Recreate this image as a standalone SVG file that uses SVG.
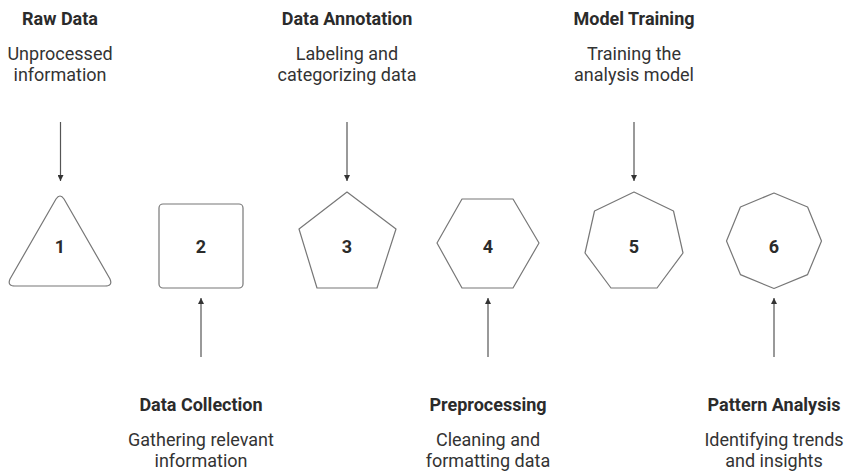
<svg xmlns="http://www.w3.org/2000/svg" width="846" height="473" viewBox="0 0 846 473">
<defs>
<style>
.t{font-family:Roboto,"Liberation Sans",sans-serif;font-weight:bold;font-size:18px;fill:#2b2b2b;text-anchor:middle}
.d{font-family:Roboto,"Liberation Sans",sans-serif;font-size:18px;fill:#333;text-anchor:middle}
.n{font-family:Roboto,"Liberation Sans",sans-serif;font-weight:bold;font-size:18px;fill:#2b2b2b;text-anchor:middle}
.s{fill:#fff;stroke:#777;stroke-width:1.2;stroke-linejoin:round}
.c{stroke:#555;stroke-width:1.2;fill:none}
</style>
<marker id="ah" viewBox="0 0 10 10" refX="10" refY="5" markerWidth="6" markerHeight="6" markerUnits="userSpaceOnUse" orient="auto">
<path d="M0,0 L10,5 L0,10 Z" fill="#333"/>
</marker>
</defs>
<rect width="846" height="473" fill="#fff"/>
<g id="connectors">
<line class="c" x1="60.5" y1="122" x2="60.5" y2="181" marker-end="url(#ah)"/>
<line class="c" x1="347" y1="122" x2="347" y2="181" marker-end="url(#ah)"/>
<line class="c" x1="634" y1="122" x2="634" y2="181" marker-end="url(#ah)"/>
<line class="c" x1="201" y1="357" x2="201" y2="298" marker-end="url(#ah)"/>
<line class="c" x1="488" y1="357" x2="488" y2="298" marker-end="url(#ah)"/>
<line class="c" x1="774" y1="357" x2="774" y2="298" marker-end="url(#ah)"/>
</g>
<g id="node1">
<path class="s" d="M56,199 Q60,193 64,199 L110,279 Q113,286 105,286 L15,286 Q7,286 10,279 Z"/>
<text class="n" x="60" y="253">1</text>
<text class="t" x="60" y="25">Raw Data</text>
<text class="d" x="60" y="60">Unprocessed</text>
<text class="d" x="60" y="81">information</text>
</g>
<g id="node2">
<rect class="s" x="159" y="204" width="84" height="84" rx="4"/>
<text class="n" x="201" y="253">2</text>
<text class="t" x="201" y="411">Data Collection</text>
<text class="d" x="201" y="446">Gathering relevant</text>
<text class="d" x="201" y="467">information</text>
</g>
<g id="node3">
<polygon class="s" points="347,192 396,229 377,288 317,288 299,229"/>
<text class="n" x="347" y="253">3</text>
<text class="t" x="347" y="25">Data Annotation</text>
<text class="d" x="347" y="60">Labeling and</text>
<text class="d" x="347" y="81">categorizing data</text>
</g>
<g id="node4">
<polygon class="s" points="437,243 462,199 513,199 539,243 513,288 462,288"/>
<text class="n" x="488" y="253">4</text>
<text class="t" x="488" y="411">Preprocessing</text>
<text class="d" x="488" y="446">Cleaning and</text>
<text class="d" x="488" y="467">formatting data</text>
</g>
<g id="node5">
<polygon class="s" points="634,192 673.5,211 683,253 657,288 611,288 585,253 594.5,211"/>
<text class="n" x="634" y="253">5</text>
<text class="t" x="634" y="25">Model Training</text>
<text class="d" x="634" y="60">Training the</text>
<text class="d" x="634" y="81">analysis model</text>
</g>
<g id="node6">
<polygon class="s" points="774,193 807.6,207 821.5,241 807.6,274.6 774,288.5 740.4,274.6 726.5,241 740.4,207"/>
<text class="n" x="774" y="253">6</text>
<text class="t" x="774" y="411">Pattern Analysis</text>
<text class="d" x="774" y="446">Identifying trends</text>
<text class="d" x="774" y="467">and insights</text>
</g>
</svg>
